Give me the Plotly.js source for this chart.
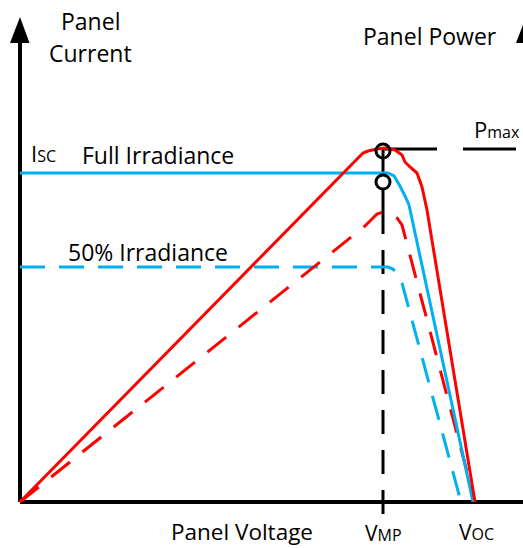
<!DOCTYPE html>
<html>
<head>
<meta charset="utf-8">
<script src="https://cdn.plot.ly/plotly-3.0.1.min.js"></script>
<style>html,body{margin:0;padding:0;background:#fff;}#chart{width:523px;height:548px;}</style>
</head>
<body>
<div id="chart"></div>
<script>
// Schematic I-V and P-V curves of a solar panel (arbitrary units)
const VMP = 36.3;
const VOC = 45.5;
const ISC = 32.9;
const PMAX = 35.2;

// Full irradiance current (blue solid)
const ivFullV = [0, 36.8, 37.4, 38.0, 38.5, 38.9, 45.3];
const ivFullI = [32.9, 32.9, 32.6, 31.6, 30.6, 29.7, 0];

// 50% irradiance current (blue dashed)
const ivHalfV = [0, 36.8, 37.3, 37.8, 38.2, 44.1];
const ivHalfI = [23.5, 23.5, 23.3, 22.7, 21.9, 0];

// Full irradiance power (red solid)
const pvFullV = [0, 34.3, 34.8, 35.7, 36.5, 37.5, 38.2, 38.5, 39.0, 39.7, 40.2, 40.5, 40.7, 45.5];
const pvFullP = [0, 34.9, 35.1, 35.3, 35.4, 35.2, 34.7, 34.0, 33.5, 32.9, 31.5, 29.9, 29.2, 0];

// 50% irradiance power (red dashed)
const pvHalfV = [0, 33.3, 34.5, 35.2, 35.7, 36.3, 37.0, 37.7, 38.2, 45.5];
const pvHalfP = [0, 26.7, 27.6, 28.3, 28.8, 29.0, 28.9, 28.4, 27.7, 0];

// Operating points (circles)
const mpV = [36.3, 36.3];
const mpY = [35.1, 32.0];

const BLUE = '#00B0F0';
const RED = '#FF0000';
const FONT = '"Open Sans", Lato, sans-serif';

const traces = [
  // axes
  {x: [0, 0], y: [0, 45.9], mode: 'lines', line: {color: 'black', width: 4}, hoverinfo: 'skip'},
  {x: [0, 52], y: [0, 0], mode: 'lines', line: {color: 'black', width: 4}, hoverinfo: 'skip'},
  {x: [-1.0, 0.95, 0, -1.0], y: [45.9, 45.9, 48.5, 45.9], mode: 'lines', fill: 'toself', fillcolor: 'black', line: {color: 'black', width: 0}, hoverinfo: 'skip'},
  {x: [49.6, 51.6, 50.6, 49.6], y: [45.9, 45.9, 48.5, 45.9], mode: 'lines', fill: 'toself', fillcolor: 'black', line: {color: 'black', width: 0}, hoverinfo: 'skip'},
  // VMP vertical line
  {x: [VMP, VMP], y: [29.2, -2.2], mode: 'lines', line: {color: 'black', width: 3, dash: '24px,16px'}, hoverinfo: 'skip'},
  {x: [VMP, VMP], y: [35.2, 29.2], mode: 'lines', line: {color: 'black', width: 3}, hoverinfo: 'skip'},
  // Pmax horizontal lines
  {x: [VMP, 41.7], y: [35.3, 35.3], mode: 'lines', line: {color: 'black', width: 3}, hoverinfo: 'skip'},
  {x: [44.3, 49.6], y: [35.3, 35.3], mode: 'lines', line: {color: 'black', width: 3}, hoverinfo: 'skip'},
  // curves
  {x: ivHalfV, y: ivHalfI, mode: 'lines', line: {color: BLUE, width: 3, dash: '25px,14px'}, hoverinfo: 'skip'},
  {x: pvHalfV, y: pvHalfP, mode: 'lines', line: {color: RED, width: 3, dash: '24px,16px'}, hoverinfo: 'skip'},
  {x: ivFullV, y: ivFullI, mode: 'lines', line: {color: BLUE, width: 3}, hoverinfo: 'skip'},
  {x: pvFullV, y: pvFullP, mode: 'lines', line: {color: RED, width: 3}, hoverinfo: 'skip'},
  // circles
  {x: [mpV[1]], y: [mpY[1]], mode: 'markers', marker: {symbol: 'circle', size: 14, color: 'white', line: {color: 'black', width: 3}}, hoverinfo: 'skip'},
  {x: [mpV[0]], y: [mpY[0]], mode: 'markers', marker: {symbol: 'circle-open', size: 14, color: 'black', line: {color: 'black', width: 3}}, hoverinfo: 'skip'}
];

function ann(x, y, text, size, xanchor) {
  return {x: x, y: y, xref: 'x', yref: 'y', text: text, showarrow: false,
          xanchor: xanchor || 'center', yanchor: 'middle',
          font: {family: FONT, size: size || 23, color: 'black'}};
}

const annotations = [
  ann(7.0, 48.1, 'Panel'),
  ann(7.0, 44.9, 'Current'),
  ann(41.0, 46.6, 'Panel Power'),
  ann(0.9, 34.9, 'I<span style="font-size:16px">SC</span>', 22, 'left'),
  ann(13.8, 34.7, 'Full Irradiance'),
  ann(12.8, 25.0, '50% Irradiance'),
  ann(47.7, 37.3, 'P<span style="font-size:16px">max</span>', 22),
  ann(22.2, -2.95, 'Panel Voltage', 22.5),
  ann(VMP, -3.05, 'V<span style="font-size:16px">MP</span>', 21),
  ann(45.6, -2.95, 'V<span style="font-size:16px">OC</span>', 21)
];

const layout = {
  width: 523, height: 548,
  margin: {l: 0, r: 0, t: 0, b: 0},
  paper_bgcolor: 'white', plot_bgcolor: 'white',
  showlegend: false,
  xaxis: {range: [-2.0, 50.3], visible: false, fixedrange: true},
  yaxis: {range: [-4.6, 50.2], visible: false, fixedrange: true},
  annotations: annotations
};

Plotly.newPlot('chart', traces, layout, {staticPlot: true, displayModeBar: false});
</script>
</body>
</html>
